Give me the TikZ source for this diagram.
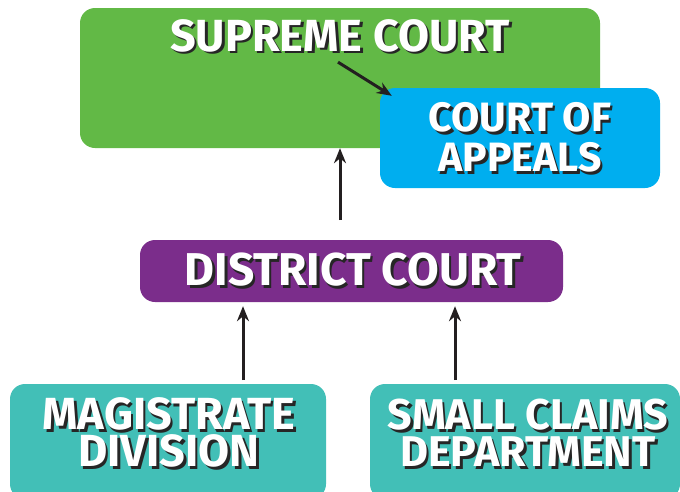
\documentclass[tikz,border=0pt]{standalone}
\usepackage{fontspec}
\setmainfont{Fira Sans}
\usepackage{tikz}
\usetikzlibrary{positioning,calc,arrows.meta}

\definecolor{supgreen}{HTML}{62B946}
\definecolor{appblue}{HTML}{00AEEF}
\definecolor{distpurple}{HTML}{7B2D8B}
\definecolor{lowteal}{HTML}{42BFB7}
\definecolor{arrowgray}{HTML}{231F20}

% white lettering with a dark drop shadow
\newcommand{\shd}[1]{\makebox[0pt][l]{\hspace{2.5pt}\raisebox{-2.5pt}{\color{black!85}#1}}#1}

\tikzset{
    courtbox/.style={rounded corners=15pt, inner sep=0pt},
    courtlabel/.style={text=white, align=center},
    uparrow/.style={-{Stealth[length=15pt,width=12pt]}, line width=3pt, arrowgray}
}

\begin{document}
\begin{tikzpicture}[x=1pt,y=-1pt]
    \useasboundingbox (0,0) rectangle (680,491);

    % Boxes
    \node[courtbox, fill=supgreen, minimum width=520pt, minimum height=140pt] (sup) at (340,78) {};
    \node[courtbox, fill=appblue, minimum width=280pt, minimum height=100pt] (app) at (520,138) {};
    \node[courtbox, fill=distpurple, minimum width=423pt, minimum height=62pt] (dist) at (351.5,271) {};
    \node[courtbox, fill=lowteal, minimum width=316pt, minimum height=115pt] (mag) at (168,441.5) {};
    \node[courtbox, fill=lowteal, minimum width=310pt, minimum height=115pt] (small) at (525,441.5) {};

    % Labels
    \node[courtlabel, font=\fontsize{45}{45}\selectfont\bfseries] (supL) at (340,37) {\shd{SUPREME COURT}};
    \node[courtlabel, font=\fontsize{41}{40}\selectfont\bfseries] (appL) at (520,139) {\shd{COURT OF}\\\shd{APPEALS}};
    \node[courtlabel, font=\fontsize{46}{46}\selectfont\bfseries] (distL) at (353,271) {\shd{DISTRICT COURT}};
    \node[courtlabel, font=\fontsize{45}{37}\selectfont\bfseries] (magL) at (169,434) {\shd{MAGISTRATE}\\\shd{DIVISION}};
    \node[courtlabel, font=\fontsize{43}{37}\selectfont\bfseries] (smallL) at (528,434) {\shd{SMALL CLAIMS}\\\shd{DEPARTMENT}};

    % Connectors
    \coordinate (distTop) at (340,220);
    \coordinate (magTop) at (243,380);
    \coordinate (smallTop) at (455,380);
    \draw[uparrow] (distTop) -- (distTop |- sup.south);
    \draw[uparrow] (magTop) -- ($(magTop |- dist.south)+(0,4)$);
    \draw[uparrow] (smallTop) -- ($(smallTop |- dist.south)+(0,4)$);
    \draw[uparrow] ($(supL.south)+(-2,4)$) -- ($(app.north west)+(12,8)$);

\end{tikzpicture}
\end{document}
